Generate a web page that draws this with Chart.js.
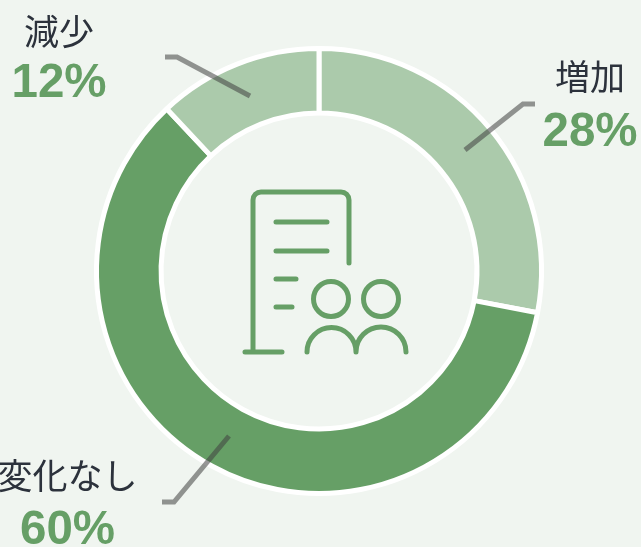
<!DOCTYPE html>
<html lang="ja"><head><meta charset="utf-8">
<script src="https://cdn.jsdelivr.net/npm/chart.js@4"></script>
<style>html,body{margin:0;padding:0;background:#f0f5f0;overflow:hidden}canvas{display:block}</style>
</head><body><canvas id="c" width="641" height="547"></canvas>
<script>
const categories = ['増加','変化なし','減少'];
const values = [28,60,12];
const colors = ['#abcaab','#669f66','#abcaab'];
const labelPos = [[590,77,133],[67.5,476,531],[59,32,84]];
const leaders = [
  [[535,104],[523,104],[465,150]],
  [[162,502],[174,502],[229,436]],
  [[165,57],[177,57],[250,96]]
];
const overlay = {
  id:'overlay',
  afterDatasetsDraw(chart){
    const g = chart.ctx;
    g.save();
    g.lineJoin='miter'; g.lineCap='butt';
    g.strokeStyle='rgba(64,64,64,0.55)'; g.lineWidth=5;
    leaders.forEach(l=>{g.beginPath();l.forEach((p,i)=>i?g.lineTo(p[0],p[1]):g.moveTo(p[0],p[1]));g.stroke();});
    g.textAlign='center'; g.textBaseline='middle';
    categories.forEach((c,i)=>{
      const p=labelPos[i];
      g.fillStyle='#2c323c'; g.font='35px "Noto Sans CJK JP"';
      g.fillText(c,p[0],p[1]);
      g.fillStyle='#669f66'; g.font='bold 47.5px "Liberation Sans"';
      g.fillText(values[i]+'%',p[0],p[2]);
    });
    // centre icon
    g.strokeStyle='#669f66'; g.lineWidth=5; g.lineCap='round'; g.lineJoin='round';
    const P=new Path2D();
    P.moveTo(349,263);P.lineTo(349,200);P.arcTo(349,192,341,192,8);P.lineTo(261,192);P.arcTo(253,192,253,200,8);P.lineTo(253,352);
    P.moveTo(245,352);P.lineTo(282,352);
    P.moveTo(276,222);P.lineTo(327,222);
    P.moveTo(276,251);P.lineTo(327,251);
    P.moveTo(276,279);P.lineTo(296,279);
    P.moveTo(276,307);P.lineTo(292,307);
    P.moveTo(348.5,299);P.arc(331,299,17.5,0,Math.PI*2);
    P.moveTo(398.5,299);P.arc(381,299,17.5,0,Math.PI*2);
    P.moveTo(307,352);P.arc(331.5,352,24.5,Math.PI,0);
    P.moveTo(356,352);P.arc(381,352,25,Math.PI,0);
    g.stroke(P);
    g.restore();
  }
};
new Chart(document.getElementById('c'),{
  type:'doughnut',
  data:{labels:categories,datasets:[{data:values,backgroundColor:colors,borderColor:'#ffffff',borderWidth:5}]},
  options:{
    responsive:false,animation:false,cutout:'71%',
    layout:{padding:{left:94,right:97,top:46,bottom:51}},
    plugins:{legend:{display:false},tooltip:{enabled:false}}
  },
  plugins:[overlay]
});
</script></body></html>
